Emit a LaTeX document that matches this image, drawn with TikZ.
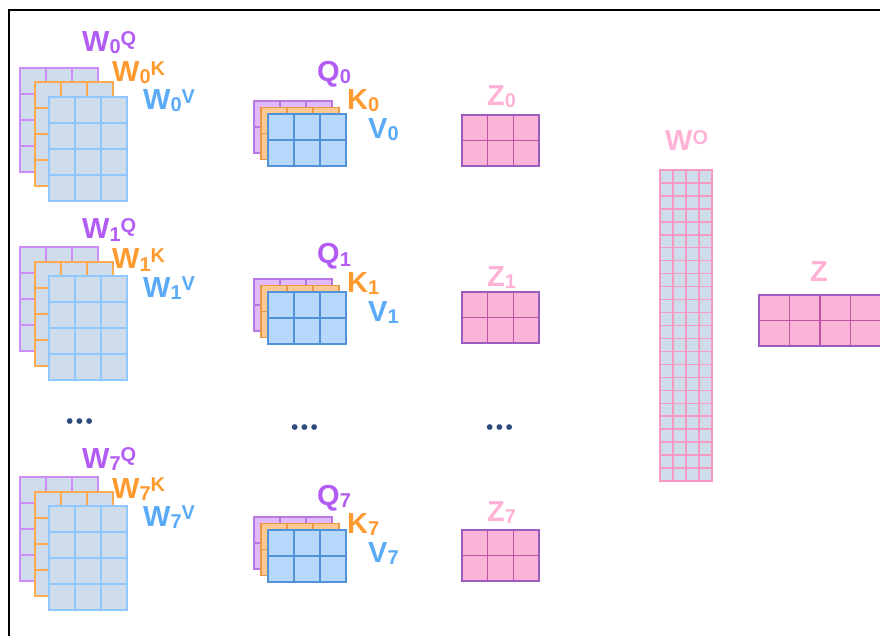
\documentclass[tikz,border=0pt]{standalone}
\usepackage{fontspec}
\setmainfont{Liberation Sans}
\usetikzlibrary{calc}

\definecolor{qtext}{HTML}{B25CF4}
\definecolor{ktext}{HTML}{FF9A2E}
\definecolor{vtext}{HTML}{5AAAF8}
\definecolor{ztext}{HTML}{FFB2D6}
\definecolor{qline}{HTML}{CD8DF6}
\definecolor{kline}{HTML}{FFAA50}
\definecolor{vline}{HTML}{8FC7FF}
\definecolor{wfill}{HTML}{CFDCEB}
\definecolor{qfill}{HTML}{E2BAF7}
\definecolor{qedge}{HTML}{B878E4}
\definecolor{kfill}{HTML}{FDC892}
\definecolor{kedge}{HTML}{E99A48}
\definecolor{vfill}{HTML}{B6D9FB}
\definecolor{vedge}{HTML}{5292D8}
\definecolor{zfill}{HTML}{F9B4D8}
\definecolor{zedge}{HTML}{C052A8}
\definecolor{zborder}{HTML}{9C5BBF}
\definecolor{oline}{HTML}{F69AC4}
\definecolor{dotcol}{HTML}{2C4A7C}

\newcommand{\subsup}[3]{#1\raisebox{-2pt}{\fontsize{20}{20}\selectfont #2}\raisebox{6.5pt}{\fontsize{20}{20}\selectfont #3}}

\begin{document}
\begin{tikzpicture}[x=1pt, y=-1pt,
    box/.style = {rectangle, inner sep=0pt, outer sep=0pt, anchor=north west},
    cells/.style n args = {3}{path picture={
        \foreach \cc in {1,...,#1}
            \draw[#3] ($(path picture bounding box.north west)!\cc/#1!(path picture bounding box.north east)$) -- ($(path picture bounding box.south west)!\cc/#1!(path picture bounding box.south east)$);
        \foreach \rr in {1,...,#2}
            \draw[#3] ($(path picture bounding box.north west)!\rr/#2!(path picture bounding box.south west)$) -- ($(path picture bounding box.north east)!\rr/#2!(path picture bounding box.south east)$);
    }},
    big/.style = {box, draw=#1, fill=wfill, line width=2pt, minimum width=78pt, minimum height=104pt, cells={3}{4}{draw=#1, line width=2pt}},
    small/.style 2 args = {box, draw=#2, fill=#1, line width=1.2pt, minimum width=78pt, minimum height=52pt, cells={3}{2}{draw=#2, line width=1.2pt}},
    zbox/.style = {box, draw=zborder, fill=zfill, line width=1.2pt, minimum height=51pt, cells={#1}{2}{draw=zedge, line width=1.2pt}},
    lab/.style = {anchor=base west, inner sep=0pt, font=\bfseries\fontsize{29}{31}\selectfont},
    dots/.style = {anchor=base west, inner sep=0pt, text=dotcol, font=\fontsize{21}{21}\selectfont}
]
\useasboundingbox (0,0) rectangle (880,636);

% frame
\draw[line width=2pt] (9,636) -- (9,10) -- (881,10);

% heads 0, 1 and 7
\foreach \n/\wy/\wl/\qy/\ql/\zy/\zl in {0/68/52/101/82/115/106, 1/247/239/279/264/292/286, 7/477/468/517/505/530/521} {
    \node[big=qline] (wq\n) at (20,\wy) {};
    \node[big=kline] (wk\n) at (34.5,\wy+14.5) {};
    \node[big=vline] (wv\n) at (49,\wy+29) {};
    \node[lab, text=qtext] (lwq\n) at (82,\wl) {\subsup{W}{\n}{Q}};
    \node[lab, text=ktext] (lwk\n) at (112,\wl+30) {\subsup{W}{\n}{K}};
    \node[lab, text=vtext] (lwv\n) at (143,\wl+58) {\subsup{W}{\n}{V}};

    \node[small={qfill}{qedge}] (q\n) at (254,\qy) {};
    \node[small={kfill}{kedge}] (k\n) at (261,\qy+6.5) {};
    \node[small={vfill}{vedge}] (v\n) at (268,\qy+13) {};
    \node[lab, text=qtext] (lq\n) at (317,\ql) {\subsup{Q}{\n}{}};
    \node[lab, text=ktext] (lk\n) at (347,\ql+28) {\subsup{K}{\n}{}};
    \node[lab, text=vtext] (lv\n) at (368,\ql+57) {\subsup{V}{\n}{}};

    \node[zbox=3, minimum width=77pt] (z\n) at (462,\zy) {};
    \node[lab, text=ztext] (lz\n) at (487,\zl) {\subsup{Z}{\n}{}};
}

% skipped heads
\node[dots] (dw) at (66,428.5) {•\hspace{2.4pt}•\hspace{2.4pt}•};
\node[dots] (dq) at (291,434.5) {•\hspace{2.4pt}•\hspace{2.4pt}•};
\node[dots] (dz) at (486,434.5) {•\hspace{2.4pt}•\hspace{2.4pt}•};

% output projection and result
\node[box, draw=oline, fill=wfill, line width=1.5pt, minimum width=52pt, minimum height=311pt, cells={4}{24}{draw=oline, line width=1.5pt}] (wo) at (660,170) {};
\node[lab, text=ztext] (lwo) at (665,151) {\subsup{W}{}{O}};
\node[zbox=4, minimum width=122pt] (z) at (759,295) {};
\node[lab, text=ztext] (lz) at (810,281) {Z};

\end{tikzpicture}
\end{document}
